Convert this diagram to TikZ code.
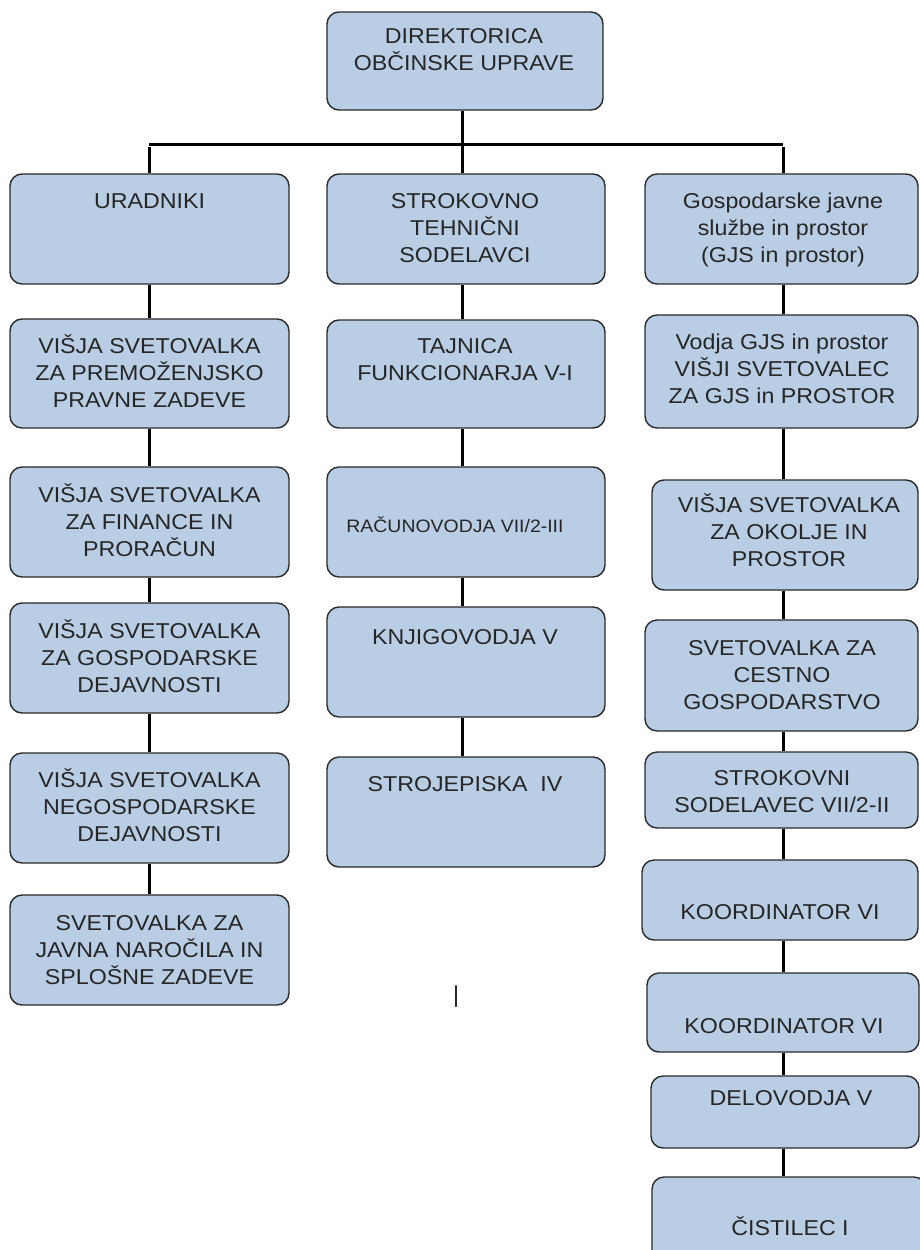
\documentclass[tikz,border=0pt]{standalone}
\usepackage{fontspec}
\setmainfont[FakeStretch=1.08]{Liberation Sans}
\definecolor{boxfill}{HTML}{B9CDE4}
\definecolor{boxline}{HTML}{2A2A2A}
\begin{document}
\begin{tikzpicture}[x=1pt,y=-1pt,
  box/.style={draw=boxline, line width=1.4pt, fill=boxfill, rounded corners=12pt, inner sep=0pt},
  lbl/.style={font=\fontsize{21.5}{27}\selectfont, align=center, anchor=base, inner sep=0pt, text=black!85},
  conn/.style={line width=3pt, black}]
\useasboundingbox (0,0) rectangle (920,1250);
\clip (0,0) rectangle (920,1250);
% boxes
\node[box, minimum width=276pt, minimum height=98pt] (dir) at (465,61) {};
% left column
\node[box, minimum width=279pt, minimum height=110pt] (ur) at (149.5,229) {};
\node[box, minimum width=279pt, minimum height=109pt] (pr) at (149.5,373.5) {};
\node[box, minimum width=279pt, minimum height=110pt] (fi) at (149.5,522) {};
\node[box, minimum width=279pt, minimum height=110pt] (go) at (149.5,658) {};
\node[box, minimum width=279pt, minimum height=110pt] (ne) at (149.5,808) {};
\node[box, minimum width=279pt, minimum height=110pt] (jn) at (149.5,950) {};
% middle column
\node[box, minimum width=278pt, minimum height=110pt] (st) at (466,229) {};
\node[box, minimum width=278pt, minimum height=108pt] (tj) at (466,374) {};
\node[box, minimum width=278pt, minimum height=110pt] (ra) at (466,522) {};
\node[box, minimum width=278pt, minimum height=110pt] (kn) at (466,662) {};
\node[box, minimum width=278pt, minimum height=110pt] (sj) at (466,812) {};
% right column
\node[box, minimum width=273pt, minimum height=110pt] (gj) at (781.5,229) {};
\node[box, minimum width=273pt, minimum height=113pt] (vo) at (781.5,371.5) {};
\node[box, minimum width=266pt, minimum height=110pt] (ok) at (785,535) {};
\node[box, minimum width=273pt, minimum height=111pt] (ce) at (781.5,675.5) {};
\node[box, minimum width=273pt, minimum height=76pt] (sk) at (781.5,790) {};
\node[box, minimum width=276pt, minimum height=80pt] (ka) at (780,900) {};
\node[box, minimum width=272pt, minimum height=79pt] (kb) at (783,1012.5) {};
\node[box, minimum width=268pt, minimum height=72pt] (de) at (785,1112) {};
\node[box, minimum width=274pt, minimum height=100pt] (ci) at (789,1227) {};
% junctions
\coordinate (jl) at (149,144);
\coordinate (jm) at (462,144);
\coordinate (jr) at (783,144);
% connectors
\draw[conn] (dir.south -| jm) -- (jm);
\draw[conn] (jl) -- (jr);
\draw[conn] ([yshift=-3pt]jl) -- (ur.north -| jl);
\draw[conn] (jm) -- (st.north -| jm);
\draw[conn] ([yshift=-3pt]jr) -- (gj.north -| jr);
\draw[conn] (ur.south -| jl) -- (pr.north -| jl);
\draw[conn] (pr.south -| jl) -- (fi.north -| jl);
\draw[conn] (fi.south -| jl) -- (go.north -| jl);
\draw[conn] (go.south -| jl) -- (ne.north -| jl);
\draw[conn] (ne.south -| jl) -- (jn.north -| jl);
\draw[conn] (st.south -| jm) -- (tj.north -| jm);
\draw[conn] (tj.south -| jm) -- (ra.north -| jm);
\draw[conn] (ra.south -| jm) -- (kn.north -| jm);
\draw[conn] (kn.south -| jm) -- (sj.north -| jm);
\draw[conn] (gj.south -| jr) -- (vo.north -| jr);
\draw[conn] (vo.south -| jr) -- (ok.north -| jr);
\draw[conn] (ok.south -| jr) -- (ce.north -| jr);
\draw[conn] (ce.south -| jr) -- (sk.north -| jr);
\draw[conn] (sk.south -| jr) -- (ka.north -| jr);
\draw[conn] (ka.south -| jr) -- (kb.north -| jr);
\draw[conn] (kb.south -| jr) -- (de.north -| jr);
\draw[conn] (de.south -| jr) -- (ci.north -| jr);
% labels (anchor = baseline of the last line)
\node[lbl] (tdir) at (464,70) {DIREKTORICA\\OBČINSKE UPRAVE};
\node[lbl] (tur) at (149.5,208) {URADNIKI};
\node[lbl] (tpr) at (149.5,407) {VIŠJA SVETOVALKA\\ZA PREMOŽENJSKO\\PRAVNE ZADEVE};
\node[lbl] (tfi) at (149.5,556) {VIŠJA SVETOVALKA\\ZA FINANCE IN\\PRORAČUN};
\node[lbl] (tgo) at (149.5,692) {VIŠJA SVETOVALKA\\ZA GOSPODARSKE\\DEJAVNOSTI};
\node[lbl] (tne) at (149.5,841) {VIŠJA SVETOVALKA\\NEGOSPODARSKE\\DEJAVNOSTI};
\node[lbl] (tjn) at (149.5,984) {SVETOVALKA ZA\\JAVNA NAROČILA IN\\SPLOŠNE ZADEVE};
\node[lbl] (tst) at (465,262) {STROKOVNO\\TEHNIČNI\\SODELAVCI};
\node[lbl] (ttj) at (465,380) {TAJNICA\\FUNKCIONARJA V-I};
\node[lbl, font=\fontsize{18}{22}\selectfont] (tra) at (455,532) {RAČUNOVODJA VII/2-III};
\node[lbl] (tkn) at (465,644) {KNJIGOVODJA V};
\node[lbl] (tsj) at (465,791) {STROJEPISKA\ \ IV};
\node[lbl] (tgj) at (783,262) {Gospodarske javne\\službe in prostor\\(GJS in prostor)};
\node[lbl] (tvo) at (782,403) {Vodja GJS in prostor\\VIŠJI SVETOVALEC\\ZA GJS in PROSTOR};
\node[lbl] (tok) at (789,566) {VIŠJA SVETOVALKA\\ZA OKOLJE IN\\PROSTOR};
\node[lbl] (tce) at (782,709) {SVETOVALKA ZA\\CESTNO\\GOSPODARSTVO};
\node[lbl] (tsk) at (782,812) {STROKOVNI\\SODELAVEC VII/2-II};
\node[lbl] (tka) at (780,919) {KOORDINATOR VI};
\node[lbl] (tkb) at (784,1033) {KOORDINATOR VI};
\node[lbl] (tde) at (791,1105) {DELOVODJA V};
\node[lbl] (tci) at (790,1235) {ČISTILEC I};
\node[lbl, font=\fontsize{23}{27}\selectfont] (stray) at (456,1002) {|};
\end{tikzpicture}
\end{document}
